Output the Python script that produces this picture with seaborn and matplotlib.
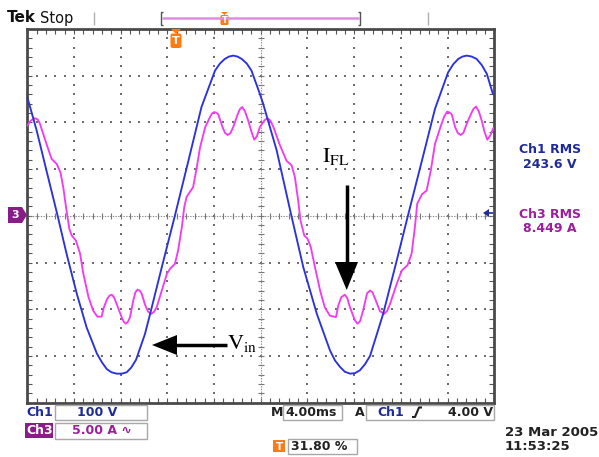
import numpy as np
import seaborn as sns
import matplotlib
matplotlib.use("Agg")
import matplotlib.pyplot as plt
import matplotlib.patches as mpatches
import matplotlib.transforms as mtransforms
from matplotlib.lines import Line2D

# ---------------- data ----------------
ch1_time_ms = [-20.0, -19.2, -18.36, -17.44, -16.64, -15.76, -14.92, -14.04, -13.6, -13.2,
               -12.8, -12.36, -11.9, -11.48, -11.1, -10.68, -9.92, -9.48, -8.48, -7.36,
               -6.2, -5.08, -3.92, -3.5, -3.08, -2.72, -2.36, -2.0, -1.64, -1.2,
               -0.8, -0.08, 0.2, 1.36, 2.52, 3.64, 4.8, 5.92, 6.36, 6.8,
               7.2, 7.64, 8.06, 8.48, 8.92, 9.36, 10.48, 11.64, 12.64, 13.8,
               14.92, 16.04, 16.5, 16.92, 17.28, 17.64, 18.06, 18.48, 18.92, 19.36, 19.88]
ch1_volts = [254, 183, 97, 4, -81, -167, -239, -295, -314, -328,
             -335, -338, -338, -335, -325, -308, -253, -210, -110, 0,
             118, 233, 311, 326, 336, 341, 343, 341, 336, 326,
             311, 261, 240, 140, 11, -110, -210, -288, -310, -324,
             -334, -338, -337, -331, -318, -300, -210, -96, 4, 118,
             229, 307, 325, 336, 341, 343, 341, 336, 323, 304, 261]

ch3_time_ms = [-20.0, -19.7, -19.34, -19.1, -18.92, -18.36, -17.92, -17.48, -17.16, -16.92,
               -16.64, -16.4, -16.2, -15.84, -15.48, -15.2, -14.76, -14.36, -14.0, -13.64,
               -13.44, -13.16, -12.96, -12.76, -12.56, -12.36, -11.92, -11.74, -11.56, -11.38,
               -11.2, -10.92, -10.74, -10.56, -10.38, -10.2, -9.92, -9.66, -9.4, -9.16,
               -8.92, -8.48, -8.04, -7.76, -7.36, -7.08, -6.76, -6.56, -6.36, -6.08,
               -5.8, -5.48, -5.2, -4.76, -4.36, -4.18, -4.0, -3.82, -3.64, -3.28,
               -3.05, -2.84, -2.6, -2.36, -2.0, -1.8, -1.6, -1.36, -1.08, -0.8,
               -0.56, -0.34, -0.08, 0.3, 0.56, 0.82, 1.08, 1.64, 2.2, 2.64,
               2.92, 3.2, 3.4, 3.72, 4.0, 4.28, 4.64, 5.08, 5.48, 5.92,
               6.44, 6.64, 6.9, 7.2, 7.4, 7.64, 8.06, 8.28, 8.5, 8.76,
               9.1, 9.36, 9.56, 9.8, 10.2, 10.56, 10.82, 11.08, 11.64, 12.08,
               12.56, 12.92, 13.2, 13.4, 13.8, 14.2, 14.56, 14.92, 15.4, 15.7,
               15.96, 16.18, 16.36, 16.64, 16.88, 17.12, 17.36, 17.64, 18.0, 18.22,
               18.44, 18.68, 18.92, 19.16, 19.4, 19.66, 19.92]
ch3_amps = [9.65, 10.2, 10.45, 10.3, 9.85, 7.7, 6.1, 5.55, 4.65, 3.05,
            0.55, -1.4, -2.1, -2.65, -4.05, -6.2, -8.7, -10.15, -10.8, -10.8,
            -9.8, -8.9, -8.55, -8.45, -8.75, -9.4, -10.85, -11.35, -11.55, -11.35,
            -10.85, -9.05, -8.2, -7.9, -8.0, -8.35, -9.5, -10.25, -10.5, -10.3,
            -9.8, -8.0, -6.2, -5.65, -5.15, -3.7, -1.2, 0.9, 2.0, 2.55,
            3.05, 5.2, 7.35, 9.5, 10.55, 10.95, 11.1, 11.05, 10.85, 9.5,
            8.85, 8.65, 8.85, 9.5, 10.8, 11.4, 11.65, 11.2, 10.2, 9.0,
            8.15, 8.5, 9.5, 10.2, 10.45, 10.2, 9.5, 7.55, 5.9, 5.4,
            4.15, 1.65, -0.5, -2.1, -2.45, -3.35, -5.5, -8.0, -9.8, -10.7,
            -10.85, -9.6, -8.7, -8.45, -8.8, -9.8, -11.2, -11.55, -11.3, -10.15,
            -8.3, -8.0, -8.2, -8.9, -10.2, -10.5, -10.2, -9.4, -7.3, -5.85,
            -5.3, -4.05, -1.2, 1.3, 2.3, 2.7, 4.85, 7.7, 9.55, 10.6,
            11.15, 11.05, 10.85, 9.5, 8.85, 8.65, 8.9, 9.85, 10.9, 11.45,
            11.7, 11.15, 10.2, 9.0, 8.15, 8.6, 9.4]

VOLTS_PER_DIV = 100.0
AMPS_PER_DIV = 5.0
MS_PER_DIV = 4.0

# ---------------- figure setup ----------------
W, H = 599, 457
sns.set_theme(style="white")
plt.rcParams["font.family"] = ["DejaVu Sans"]
plt.rcParams["mathtext.fontset"] = "stix"

fig = plt.figure(figsize=(W / 100, H / 100), dpi=100)
fig.patch.set_facecolor("white")
PX = mtransforms.Affine2D().scale(1 / 100, -1 / 100).translate(0, H / 100) + fig.dpi_scale_trans

L, R, T, B = 27.3, 494.3, 29.0, 402.6
ax = fig.add_axes([L / W, 1 - B / H, (R - L) / W, (B - T) / H])
ax.set_facecolor("white")
ax.set_xlim(-5 * MS_PER_DIV, 5 * MS_PER_DIV)
ax.set_ylim(-4, 4)

# graticule dots
grid_col = "#6e6e6e"
ydots = np.arange(-4, 4.001, 0.2)
xdots = np.arange(-20, 20.001, 0.8)
for xv in [-16, -12, -8, -4, 4, 8, 12, 16]:
    ax.scatter(np.full(len(ydots), xv), ydots, s=1.6, c=grid_col, marker="s", lw=0, zorder=1)
for yv in [-3, -2, -1, 1, 2, 3]:
    ax.scatter(xdots, np.full(len(xdots), yv), s=1.6, c=grid_col, marker="s", lw=0, zorder=1)
# centre crosshair
ax.axhline(0, color="#8a8a8a", lw=0.8, ls=(0, (1.2, 1.2)), zorder=1)
ax.axvline(0, color="#8a8a8a", lw=0.8, ls=(0, (1.2, 1.2)), zorder=1)
ax.scatter(xdots, np.zeros(len(xdots)), marker="|", s=14, c="#777", lw=0.8, zorder=1)
ax.scatter(np.zeros(len(ydots)), ydots, marker="_", s=14, c="#777", lw=0.8, zorder=1)

# frame ticks
ax.set_xticks(np.arange(-20, 20.01, 4))
ax.set_xticks(xdots, minor=True)
ax.set_yticks(np.arange(-4, 4.01, 1))
ax.set_yticks(ydots, minor=True)
ax.tick_params(which="both", direction="in", length=3.5, width=0.8, color="#555",
               top=True, right=True, bottom=True, left=True,
               labelbottom=False, labelleft=False)
for sp in ax.spines.values():
    sp.set_color("#4a4a4a")
    sp.set_linewidth(2.0)

# traces
sns.lineplot(x=np.array(ch1_time_ms), y=np.array(ch1_volts) / VOLTS_PER_DIV, ax=ax,
             color="#2a32e0", lw=1.35, estimator=None, sort=False, zorder=4)
sns.lineplot(x=np.array(ch3_time_ms), y=np.array(ch3_amps) / AMPS_PER_DIV, ax=ax,
             color="#f23cf2", lw=1.35, estimator=None, sort=False, zorder=3)
ax.set_xlabel("")
ax.set_ylabel("")
for ln in ax.lines:
    ln.set_solid_joinstyle("round")


# ---------------- helpers in pixel coordinates ----------------
def ptext(x, y, s, **kw):
    kw.setdefault("va", "center")
    kw.setdefault("ha", "left")
    fig.text(x / W, 1 - y / H, s, **kw)


def pbox(x0, y0, x1, y1, fc="none", ec="#a8a8a8", lw=1.0):
    fig.add_artist(mpatches.Rectangle((x0, y0), x1 - x0, y1 - y0, transform=PX,
                                      fc=fc, ec=ec, lw=lw))


def ppoly(pts, fc, ec="none", lw=0):
    fig.add_artist(mpatches.Polygon(pts, closed=True, transform=PX, fc=fc, ec=ec, lw=lw))


def pline(xs, ys, color, lw):
    fig.add_artist(Line2D(xs, ys, transform=PX, color=color, lw=lw,
                          solid_capstyle="butt"))


BLUE_T = "#1f2a9a"
PURP_T = "#9a1f9a"
ORANGE = "#ff7a10"

# header
ptext(7, 18, "Tek", fontsize=11, fontweight="heavy", color="#111")
ptext(40, 18, "Stop", fontsize=10.5, color="#111")
pline([94, 94], [12, 25], "#b0b0b0", 1.0)
pline([427.7, 427.7], [12, 25], "#b0b0b0", 1.0)
pline([162, 359], [18, 18], "#dd8ddd", 1.8)
pline([163, 161, 161, 163], [12, 12, 25, 25], "#555", 1.0)
pline([358, 360, 360, 358], [12, 12, 25, 25], "#555", 1.0)
ppoly([(221, 12), (228, 12), (224.5, 15)], ORANGE)
fig.add_artist(mpatches.FancyBboxPatch((220.5, 15), 8, 10, boxstyle="round,pad=0,rounding_size=1.5",
                                       transform=PX, fc=ORANGE, ec="none"))
ptext(224.5, 20.5, "T", fontsize=6, fontweight="bold", color="white", ha="center")

# trigger position marker below the top edge
ppoly([(171, 29), (181, 29), (176, 34)], ORANGE)
fig.add_artist(mpatches.FancyBboxPatch((170.5, 33.5), 11, 14.5, boxstyle="round,pad=0,rounding_size=2",
                                       transform=PX, fc=ORANGE, ec="none"))
ptext(176, 41.5, "T", fontsize=8, fontweight="bold", color="white", ha="center")

# channel 3 ground marker
ppoly([(8, 207), (22, 207), (27, 215), (22, 223), (8, 223)], "#8a1c8a")
ptext(15.5, 215.5, "3", fontsize=8, fontweight="bold", color="white", ha="center")
# trigger level arrow (right)
ppoly([(483, 213), (489, 209), (489, 217)], BLUE_T)
pline([488, 493], [213, 213], BLUE_T, 1.2)

# measurements
ptext(550, 150, "Ch1 RMS", fontsize=9, fontweight="bold", color=BLUE_T, ha="center")
ptext(550, 164.5, "243.6 V", fontsize=9, fontweight="bold", color=BLUE_T, ha="center")
ptext(550, 215, "Ch3 RMS", fontsize=9, fontweight="bold", color=PURP_T, ha="center")
ptext(550, 229, "8.449 A", fontsize=9, fontweight="bold", color=PURP_T, ha="center")

# annotations
ptext(227, 343, r"$\mathrm{V}_{\mathrm{in}}$", fontsize=16, color="black")
pline([176, 227], [345, 345], "black", 2.5)
ppoly([(152, 345), (177, 335), (177, 355)], "black")
ptext(322, 157, r"$\mathrm{I}_{\mathrm{FL}}$", fontsize=16, color="black")
pline([346.7, 346.7], [185, 264], "black", 2.5)
ppoly([(346.7, 290), (335, 262), (358, 262)], "black")

# footer
ptext(26, 412.5, "Ch1", fontsize=9, fontweight="bold", color=BLUE_T)
pbox(55, 405, 147, 420)
ptext(97, 412.5, "100 V", fontsize=9, fontweight="bold", color=BLUE_T, ha="center")
pbox(25, 423, 53, 438, fc="#8a1c8a", ec="none")
ptext(26, 430.5, "Ch3", fontsize=9, fontweight="bold", color="white")
pbox(55, 423, 147, 439)
ptext(72, 431, "5.00 A \u223f", fontsize=9, fontweight="bold", color=PURP_T)

ptext(271, 412.5, "M", fontsize=9, fontweight="bold", color="#222")
pbox(283, 405, 342, 420)
ptext(285, 412.5, "4.00ms", fontsize=9, fontweight="bold", color="#222")
ptext(355, 412.5, "A", fontsize=9, fontweight="bold", color="#222")
pbox(366, 405, 494, 420)
ptext(377, 412.5, "Ch1", fontsize=9, fontweight="bold", color=BLUE_T)
pline([412, 415, 419, 422], [417, 417, 407.5, 407.5], "#222", 1.5)
ptext(493, 412.5, "4.00 V", fontsize=9, fontweight="bold", color="#222", ha="right")

pbox(273, 440, 285, 452, fc=ORANGE, ec="none")
ptext(279, 446.5, "T", fontsize=7.5, fontweight="bold", color="white", ha="center")
pbox(288, 439, 357, 454)
ptext(291, 446.5, "31.80 %", fontsize=9, fontweight="bold", color="#222")

ptext(505, 432, "23 Mar 2005", fontsize=9.5, fontweight="bold", color="#222")
ptext(505, 446, "11:53:25", fontsize=9.5, fontweight="bold", color="#222")

fig.savefig("out.png", dpi=100, facecolor="white")
